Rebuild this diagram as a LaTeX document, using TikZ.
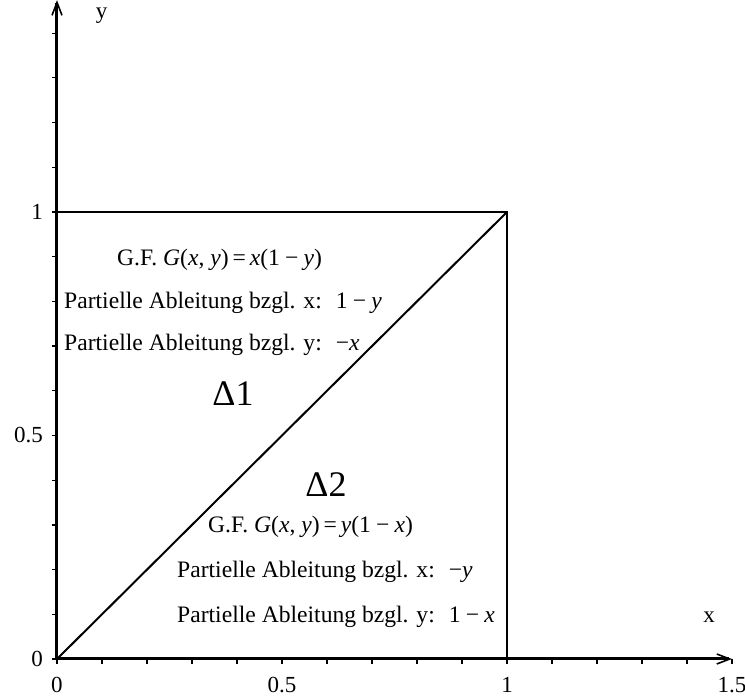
\documentclass[tikz,border=0pt]{standalone}
\usepackage{fontspec}
\setmainfont{Liberation Serif}
\usetikzlibrary{arrows.meta}
\newcommand{\mi}[1]{\textit{#1}}
\newcommand{\mminus}{\hspace{0.22em}−\hspace{0.22em}}
\begin{document}
\begin{tikzpicture}[x=450pt,y=447pt,
  axis/.style={line width=3pt,-{Straight Barb[length=13pt,width=10pt,line width=1.6pt]}},
  edge/.style={line width=2pt},
  tick/.style={line width=1.2pt},
  lbl/.style={inner sep=0pt,font=\fontsize{23}{27}\selectfont},
  txt/.style={inner sep=0pt,anchor=west,font=\fontsize{23.6}{28}\selectfont},
  big/.style={inner sep=0pt,font=\fontsize{36}{42}\selectfont}]
\useasboundingbox (-57pt,-37pt) rectangle (688pt,659pt);
\coordinate (O) at (0,0);
\coordinate (X) at (1.5,0);
\coordinate (Y) at (0,1.474);
\coordinate (A) at (0,1);
\coordinate (B) at (1,1);
\coordinate (C) at (1,0);
% ticks
\foreach \i in {1,...,15} \draw[tick] (\i/10,0) -- ++(0,-5pt);
\foreach \i in {1,...,14} \draw[tick] (0,\i/10) -- ++(-5pt,0);
\draw[tick] (0,0) -- ++(0,-5pt);
\draw[tick] (0,0) -- ++(-5pt,0);
% axes
\draw[axis] (O) -- (X);
\draw[axis] (O) -- (Y);
% square and diagonal
\draw[edge] (A) -- (B) -- (C);
\draw[edge] (O) -- (B);
% tick labels
\node[lbl,anchor=east] (y0) at (-14pt,0) {0};
\node[lbl,anchor=east] (y05) at (-14pt,0.5) {0.5};
\node[lbl,anchor=east] (y1) at (-14pt,1) {1};
\node[lbl,anchor=north] (x0) at (0,-18pt) {0};
\node[lbl,anchor=north] (x05) at (0.5,-18pt) {0.5};
\node[lbl,anchor=north] (x1) at (1,-18pt) {1};
\node[lbl,anchor=north] (x15) at (1.5,-18pt) {1.5};
\node[lbl] (ylab) at (44.5pt,643pt) {y};
\node[lbl] (xlab) at (652pt,42pt) {x};
% region texts
\node[txt] (g1) at (60pt,399pt) {G.F. \mi{G}(\mi{x}, \mi{y})\,=\,\mi{x}(1\mminus\mi{y})};
\node[txt] (p1x) at (7pt,356pt) {Partielle Ableitung bzgl. x:\hspace{0.6em}1\mminus\mi{y}};
\node[txt] (p1y) at (7pt,314pt) {Partielle Ableitung bzgl. y:\hspace{0.6em}−\mi{x}};
\node[big] (d1) at (176pt,265.5pt) {Δ1};
\node[big] (d2) at (269pt,174pt) {Δ2};
\node[txt] (g2) at (151pt,132pt) {G.F. \mi{G}(\mi{x}, \mi{y})\,=\,\mi{y}(1\mminus\mi{x})};
\node[txt] (p2x) at (120pt,87pt) {Partielle Ableitung bzgl. x:\hspace{0.6em}−\mi{y}};
\node[txt] (p2y) at (120pt,42pt) {Partielle Ableitung bzgl. y:\hspace{0.6em}1\mminus\mi{x}};
\end{tikzpicture}
\end{document}
